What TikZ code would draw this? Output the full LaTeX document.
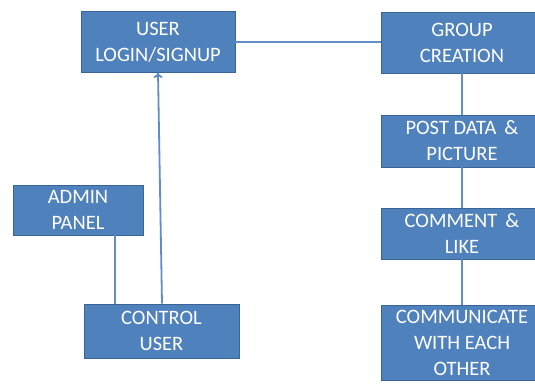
\documentclass[tikz,border=0pt]{standalone}
\usepackage{fontspec}
\setmainfont{Carlito}
\usetikzlibrary{arrows.meta}
\definecolor{boxfill}{HTML}{4F81BD}
\definecolor{boxline}{HTML}{3A6396}
\definecolor{linkcol}{HTML}{5F8DC8}
\tikzset{
  stepbox/.style={draw=boxline, line width=0.9pt, fill=boxfill, text=white,
    font=\fontsize{20.5}{26}\selectfont, align=center, inner sep=0pt},
  link/.style={draw=linkcol, line width=1.8pt}
}
\begin{document}
\begin{tikzpicture}[x=1pt, y=-1pt]
\useasboundingbox (0,0) rectangle (535,385);
\begin{scope}
\clip (0,0) rectangle (535,385);
\node[stepbox, minimum width=154pt, minimum height=61pt] (user) at (158,42) {USER\\LOGIN/SIGNUP};
\node[stepbox, minimum width=162pt, minimum height=61pt] (group) at (462,42.5) {GROUP\\CREATION};
\node[stepbox, minimum width=162pt, minimum height=52pt] (post) at (462,141) {POST DATA \,\&\\PICTURE};
\node[stepbox, minimum width=162pt, minimum height=51pt] (comment) at (462,233.5) {COMMENT \,\&\\LIKE};
\node[stepbox, minimum width=162pt, minimum height=75pt] (comm) at (462,342.5) {COMMUNICATE\\WITH EACH\\OTHER};
\node[stepbox, minimum width=130pt, minimum height=50pt] (admin) at (78,210) {ADMIN\\PANEL};
\node[stepbox, minimum width=155pt, minimum height=54pt] (ctrl) at (161.5,331) {CONTROL\\USER};
\draw[link] (user.east) -- (user.east -| group.west);
\draw[link] (group.south) -- (post.north);
\draw[link] (post.south) -- (comment.north);
\draw[link] (comment.south) -- (comm.north);
\draw[link] ([xshift=37pt]admin.south) -- ([xshift=-46.5pt]ctrl.north);
\draw[link, -{To[length=5pt,width=9pt]}] ([xshift=0.5pt]ctrl.north) -- (user.south);
\end{scope}
\end{tikzpicture}
\end{document}
